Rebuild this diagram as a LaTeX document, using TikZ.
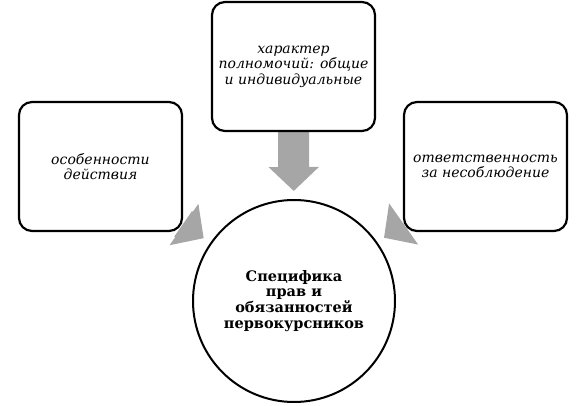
\documentclass[tikz,border=0pt]{standalone}
\usepackage{fontspec}
\setmainfont{DejaVu Serif}
\usetikzlibrary{arrows.meta,backgrounds}
\definecolor{pfeilg}{HTML}{A6A6A6}
\tikzset{
  kasten/.style={draw=black,fill=white,line width=2.2pt,rounded corners=13pt,
    minimum width=163pt,minimum height=129pt,align=center,
    font=\fontsize{14}{15.5}\selectfont\itshape},
  kreis/.style={circle,draw=black,fill=white,line width=2pt,minimum size=202pt,
    inner sep=0pt,align=center,font=\fontsize{14.5}{15.8}\selectfont\bfseries},
  pfeil/.style={-{Triangle[width=49pt,length=24pt]},pfeilg,line width=31pt,shorten >=8pt},
}
\begin{document}
\begin{tikzpicture}[x=1pt,y=1pt]
  \useasboundingbox (0,0) rectangle (587,405);
  \node[kasten] (links) at (100.5,238.5) {особенности\\действия};
  \node[kasten] (oben) at (293.5,338.5) {характер\\полномочий: общие\\и индивидуальные};
  \node[kasten] (rechts) at (485.5,238.5) {ответственность\\за несоблюдение};
  \node[kreis] (spez) at (294,104) {Специфика\\прав и\\обязанностей\\первокурсников};
  \begin{scope}[on background layer]
    \draw[pfeil] (links) -- (spez);
    \draw[pfeil] (oben) -- (spez);
    \draw[pfeil] (rechts) -- (spez);
  \end{scope}
\end{tikzpicture}
\end{document}
